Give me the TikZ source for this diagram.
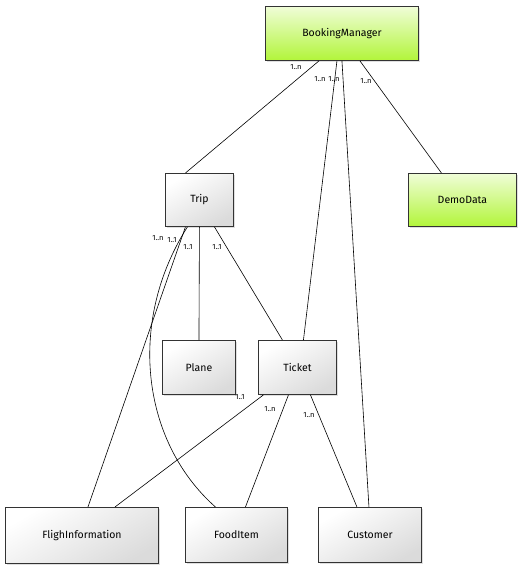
\documentclass[tikz,border=0pt]{standalone}
\usepackage{fontspec}
\setmainfont{Fira Sans}
\usetikzlibrary{shadows}
\definecolor{lime}{HTML}{B2F53A}
\tikzset{
  cls/.style={draw=black!80, line width=0.9pt, anchor=north west, inner sep=0pt,
    font=\fontsize{10.5}{12}\selectfont,
    drop shadow={shadow xshift=2pt, shadow yshift=-2pt, opacity=0.25},
    shading=axis, top color=white, bottom color=black!14, shading angle=30},
  gcls/.style={cls, top color=white!80!lime, bottom color=lime},
  link/.style={draw=black, line width=0.6pt},
  mult/.style={font=\fontsize{7.5}{8}\selectfont, inner sep=0pt}
}
\begin{document}
\begin{tikzpicture}[x=1pt,y=-1pt]
\useasboundingbox (0,0) rectangle (523,568);
% classes
\node[gcls, minimum width=153pt, minimum height=54pt] (bm) at (265,6) {BookingManager};
\node[cls, minimum width=68pt, minimum height=53pt] (trip) at (165,173) {Trip};
\node[gcls, minimum width=108pt, minimum height=53pt] (demo) at (408,173) {DemoData};
\node[cls, minimum width=73pt, minimum height=54pt] (plane) at (162,340) {Plane};
\node[cls, minimum width=78pt, minimum height=54pt] (ticket) at (258,340) {Ticket};
\node[cls, minimum width=153pt, minimum height=56pt] (flight) at (5,507) {FlighInformation};
\node[cls, minimum width=102pt, minimum height=55pt] (food) at (185,507) {FoodItem};
\node[cls, minimum width=103pt, minimum height=55pt] (cust) at (318,507) {Customer};
% associations
\draw[link] ([xshift=-23pt]bm.south) -- ([xshift=-14pt]trip.north);
\draw[link] ([xshift=-5pt]bm.south) -- ([xshift=6pt]ticket.north);
\draw[link] ([xshift=0pt]bm.south) -- ([xshift=-1pt]cust.north);
\draw[link] ([xshift=18pt]bm.south) -- ([xshift=-21pt]demo.north);
\draw[link] ([xshift=-14pt]trip.south) -- ([xshift=6pt]flight.north);
\draw[link] ([xshift=-12pt]trip.south) .. controls (128,320) and (140,440) .. ([xshift=-21pt]food.north);
\draw[link] (trip.south) -- (plane.north);
\draw[link] ([xshift=15pt]trip.south) -- ([xshift=-15pt]ticket.north);
\draw[link] ([xshift=-34pt]ticket.south) -- ([xshift=33pt]flight.north);
\draw[link] ([xshift=-9pt]ticket.south) -- ([xshift=9pt]food.north);
\draw[link] ([xshift=13pt]ticket.south) -- ([xshift=-13pt]cust.north);
% multiplicities
\node[mult] (m1) at (296,67) {1..n};
\node[mult] (m2) at (320,79) {1..n};
\node[mult] (m3) at (334,79) {1..n};
\node[mult] (m4) at (366,81) {1..n};
\node[mult] (m5) at (158,238) {1..n};
\node[mult] (m6) at (172,240) {1..1};
\node[mult] (m7) at (188,247) {1..1};
\node[mult] (m8) at (217,247) {1..1};
\node[mult] (m9) at (240,397) {1..1};
\node[mult] (m10) at (270,409) {1..n};
\node[mult] (m11) at (309,415) {1..n};
\end{tikzpicture}
\end{document}
